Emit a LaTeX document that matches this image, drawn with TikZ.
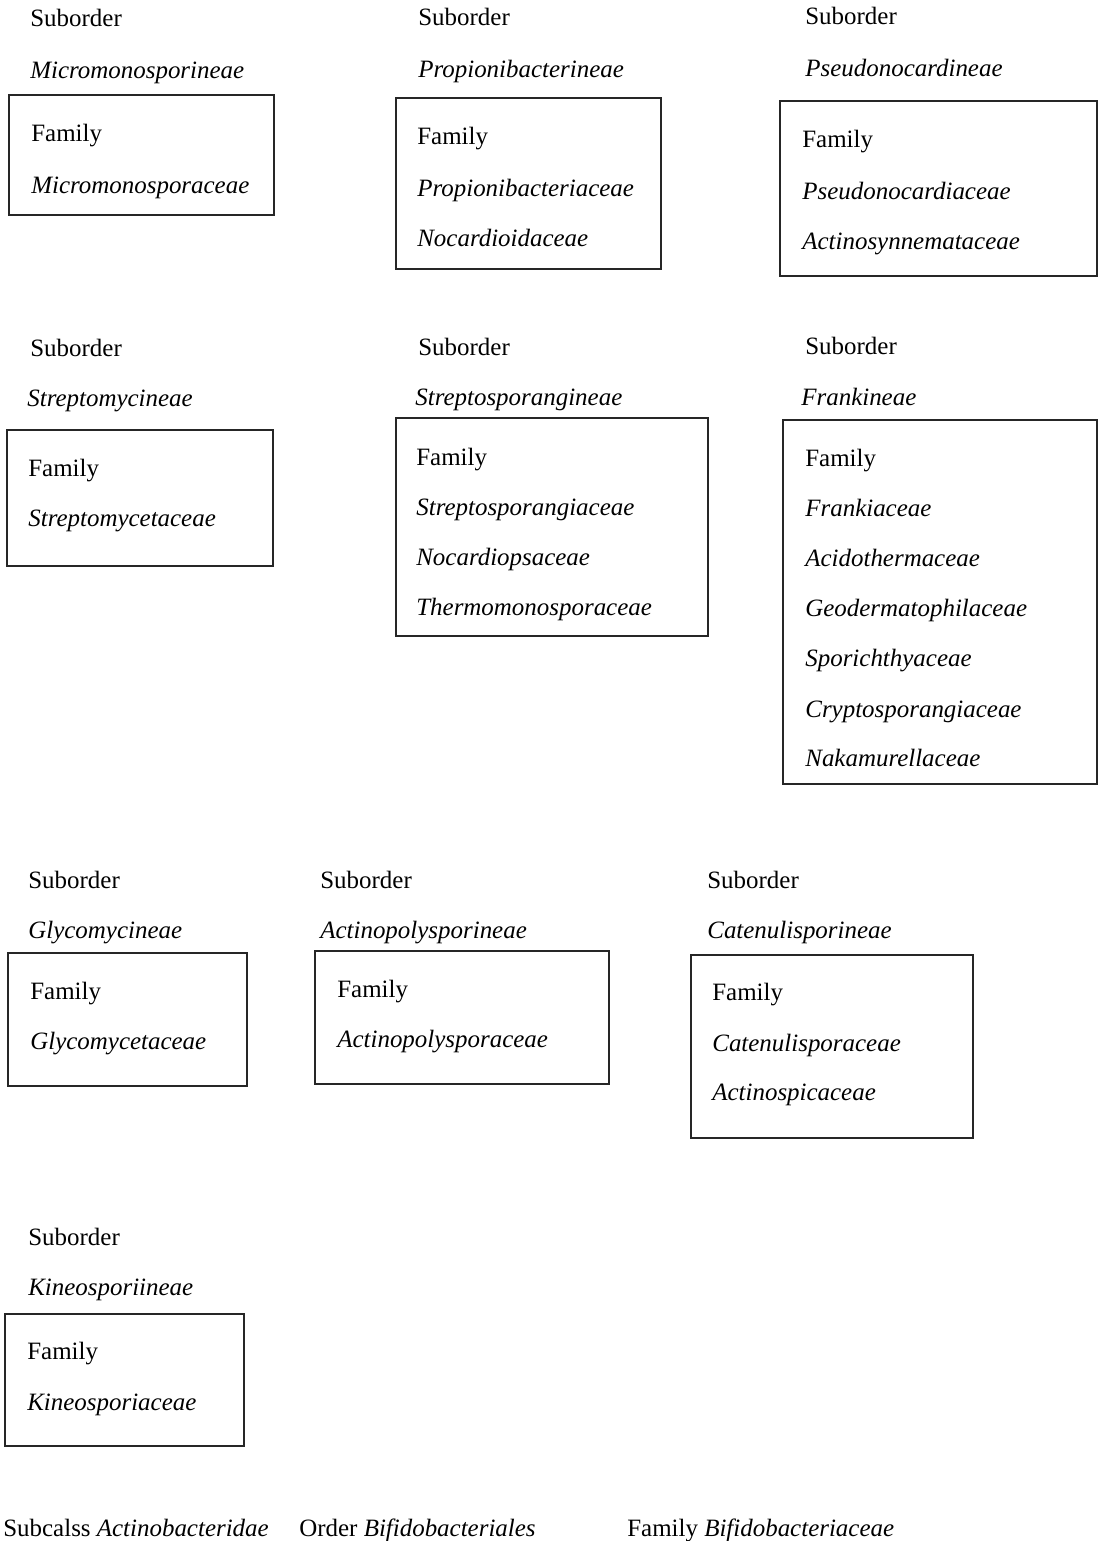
\documentclass[tikz,border=0pt]{standalone}
\usepackage{fontspec}
\setmainfont{Liberation Serif}
\usepackage{tikz}
\tikzset{every picture/.style={x=0.02cm,y=-0.02cm},
  lbl/.style={anchor=base west,inner sep=0pt,font=\fontsize{14.2}{17}\selectfont},
  famBox/.style={draw=black!85,line width=1.1pt}}

\begin{document}
\begin{tikzpicture}
  \useasboundingbox (0,0) rectangle (1102,1541);

  % row 1
  \node[lbl] (s1) at (30,27){Suborder};
  \node[lbl] (n1) at (30,79){\textit{Micromonosporineae}};
  \draw[famBox] (9,95) rectangle (274,215);
  \node[lbl] (f1) at (31,141){Family};
  \node[lbl] (f1a) at (31,193){\textit{Micromonosporaceae}};

  \node[lbl] (s2) at (418,26){Suborder};
  \node[lbl] (n2) at (418,78){\textit{Propionibacterineae}};
  \draw[famBox] (396,98) rectangle (661,269);
  \node[lbl] (f2) at (417,144){Family};
  \node[lbl] (f2a) at (417,196){\textit{Propionibacteriaceae}};
  \node[lbl] (f2b) at (417,246){\textit{Nocardioidaceae}};

  \node[lbl] (s3) at (805,25){Suborder};
  \node[lbl] (n3) at (805,77){\textit{Pseudonocardineae}};
  \draw[famBox] (780,101) rectangle (1097,276);
  \node[lbl] (f3) at (802,148){Family};
  \node[lbl] (f3a) at (802,199){\textit{Pseudonocardiaceae}};
  \node[lbl] (f3b) at (802,249){\textit{Actinosynnemataceae}};

  % row 2
  \node[lbl] (s4) at (30,356){Suborder};
  \node[lbl] (n4) at (27,406){\textit{Streptomycineae}};
  \draw[famBox] (7,430) rectangle (273,566);
  \node[lbl] (f4) at (28,476){Family};
  \node[lbl] (f4a) at (28,526){\textit{Streptomycetaceae}};

  \node[lbl] (s5) at (418,355){Suborder};
  \node[lbl] (n5) at (415,405){\textit{Streptosporangineae}};
  \draw[famBox] (396,418) rectangle (708,636);
  \node[lbl] (f5) at (416,465){Family};
  \node[lbl] (f5a) at (416,515){\textit{Streptosporangiaceae}};
  \node[lbl] (f5b) at (416,565){\textit{Nocardiopsaceae}};
  \node[lbl] (f5c) at (416,615){\textit{Thermomonosporaceae}};

  \node[lbl] (s6) at (805,354){Suborder};
  \node[lbl] (n6) at (801,405){\textit{Frankineae}};
  \draw[famBox] (783,420) rectangle (1097,784);
  \node[lbl] (f6) at (805,466){Family};
  \node[lbl] (f6a) at (805,516){\textit{Frankiaceae}};
  \node[lbl] (f6b) at (805,566){\textit{Acidothermaceae}};
  \node[lbl] (f6c) at (805,616){\textit{Geodermatophilaceae}};
  \node[lbl] (f6d) at (805,666){\textit{Sporichthyaceae}};
  \node[lbl] (f6e) at (805,717){\textit{Cryptosporangiaceae}};
  \node[lbl] (f6f) at (805,766){\textit{Nakamurellaceae}};

  % row 3
  \node[lbl] (s7) at (28,888){Suborder};
  \node[lbl] (n7) at (28,938){\textit{Glycomycineae}};
  \draw[famBox] (8,953) rectangle (247,1086);
  \node[lbl] (f7) at (30,999){Family};
  \node[lbl] (f7a) at (30,1049){\textit{Glycomycetaceae}};

  \node[lbl] (s8) at (320,888){Suborder};
  \node[lbl] (n8) at (320,938){\textit{Actinopolysporineae}};
  \draw[famBox] (315,951) rectangle (609,1084);
  \node[lbl] (f8) at (337,997){Family};
  \node[lbl] (f8a) at (337,1047){\textit{Actinopolysporaceae}};

  \node[lbl] (s9) at (707,888){Suborder};
  \node[lbl] (n9) at (707,938){\textit{Catenulisporineae}};
  \draw[famBox] (691,955) rectangle (973,1138);
  \node[lbl] (f9) at (712,1000){Family};
  \node[lbl] (f9a) at (712,1051){\textit{Catenulisporaceae}};
  \node[lbl] (f9b) at (712,1100){\textit{Actinospicaceae}};

  % row 4
  \node[lbl] (s10) at (28,1245){Suborder};
  \node[lbl] (n10) at (28,1295){\textit{Kineosporiineae}};
  \draw[famBox] (5,1314) rectangle (244,1446);
  \node[lbl] (f10) at (27,1359){Family};
  \node[lbl] (f10a) at (27,1410){\textit{Kineosporiaceae}};

  % bottom line
  \node[lbl] (sub) at (3,1536){Subcalss \textit{Actinobacteridae}};
  \node[lbl] (ord) at (299,1536){Order \textit{Bifidobacteriales}};
  \node[lbl] (fam) at (627,1536){Family \textit{Bifidobacteriaceae}};
\end{tikzpicture}
\end{document}
